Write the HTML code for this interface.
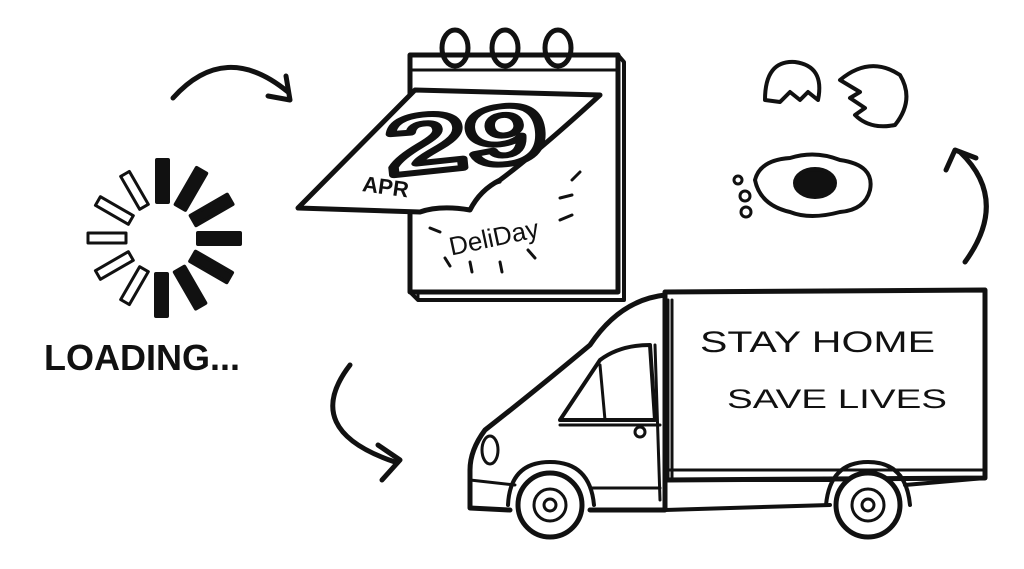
<!DOCTYPE html>
<html><head><meta charset="utf-8"><style>
html,body{margin:0;padding:0;background:#fff;}
svg{display:block}
text{font-family:"Liberation Sans",sans-serif;}
</style></head><body>
<svg width="1024" height="569" viewBox="0 0 1024 569" xmlns="http://www.w3.org/2000/svg" fill="none" stroke="#111" stroke-width="4" stroke-linecap="round" stroke-linejoin="round">
<!-- spinner -->
<g transform="translate(162,238)">
  <g fill="#111">
    <rect x="-5" y="-78" width="11" height="42" transform="rotate(0)"/>
    <rect x="-5" y="-78" width="11" height="42" transform="rotate(30)"/>
    <rect x="-5" y="-78" width="11" height="42" transform="rotate(60)"/>
    <rect x="-5" y="-78" width="11" height="42" transform="rotate(90)"/>
    <rect x="-5" y="-78" width="11" height="42" transform="rotate(120)"/>
    <rect x="-5" y="-78" width="11" height="42" transform="rotate(150)"/>
    <rect x="-5" y="-78" width="11" height="42" transform="rotate(180)"/>
  </g>
  <g fill="#fff" stroke-width="3">
    <rect x="-5" y="-74" width="10" height="38" transform="rotate(210)"/>
    <rect x="-5" y="-74" width="10" height="38" transform="rotate(240)"/>
    <rect x="-5" y="-74" width="10" height="38" transform="rotate(270)"/>
    <rect x="-5" y="-74" width="10" height="38" transform="rotate(300)"/>
    <rect x="-5" y="-74" width="10" height="38" transform="rotate(330)"/>
  </g>
</g>
<text x="44" y="370" font-size="36" font-weight="bold" fill="#111" stroke="none" textLength="196" lengthAdjust="spacingAndGlyphs">LOADING...</text>
<!-- arrows -->
<path d="M173 98 Q225 40 288 92" stroke-width="5"/>
<path d="M268 96 L290 100 L286 76" stroke-width="5"/>
<path d="M350 365 Q300 430 395 462" stroke-width="5"/>
<path d="M378 445 L400 460 L382 480" stroke-width="5"/>
<path d="M965 262 Q1010 200 960 152" stroke-width="5"/>
<path d="M946 170 L955 150 L976 158" stroke-width="5"/>
<!-- calendar -->
<path d="M410 55 L618 55 L618 292 L410 292 Z" fill="#fff" stroke-width="5"/>
<path d="M618 55 L624 62 L624 300 L418 300 L410 292" stroke-width="4"/>
<path d="M418 300 L418 292 M410 70 L618 70" stroke-width="3"/>
<g stroke-width="5">
<ellipse cx="455" cy="48" rx="13" ry="18"/><ellipse cx="505" cy="48" rx="13" ry="18"/><ellipse cx="558" cy="48" rx="13" ry="18"/>
</g>
<path d="M298 208 L415 90 L600 95 Q540 150 500 180 Q480 190 470 210 Q440 205 420 212 Z" fill="#fff" stroke-width="5"/>
<path d="M470 210 Q485 185 500 182" stroke-width="3"/>
<text x="385" y="168" font-size="82" font-weight="bold" fill="#fff" stroke="#111" stroke-width="6" textLength="160" lengthAdjust="spacingAndGlyphs" transform="rotate(-6 460 130)">29</text>
<text x="362" y="195" font-size="22" font-weight="bold" fill="#111" stroke="none" transform="rotate(8 390 190)">APR</text>
<text x="448" y="245" font-size="26" fill="#111" stroke="none" transform="rotate(-12 500 235)">DeliDay</text>
<g stroke-width="3"><path d="M430 228 L440 232 M445 258 L450 266 M470 262 L472 272 M500 262 L502 272 M528 250 L535 258 M560 220 L572 215 M572 180 L580 172 M560 198 L572 195"/></g>
<!-- eggs -->
<path d="M765 100 Q765 60 795 62 Q825 66 818 100 L808 92 L800 100 L790 92 L780 102 Z" stroke-width="4"/>
<path d="M840 80 Q870 55 900 75 Q915 100 895 125 Q870 130 855 115 L865 108 L850 98 L860 92 Z" stroke-width="4"/>
<path d="M755 180 Q760 160 790 158 Q815 150 840 160 Q875 165 870 190 Q865 210 840 212 Q810 220 790 212 Q760 205 755 180 Z" stroke-width="4"/>
<ellipse cx="815" cy="183" rx="20" ry="14" fill="#111"/>
<circle cx="738" cy="180" r="4" stroke-width="3"/><circle cx="745" cy="196" r="5" stroke-width="3"/><circle cx="746" cy="212" r="5" stroke-width="3"/>
<!-- van -->
<path d="M665 292 L985 290 L985 478 L665 480 Z" fill="#fff" stroke-width="5"/>
<path d="M665 470 L985 470 M668 300 L668 480 M672 300 L672 480" stroke-width="3"/>
<path d="M665 295 Q620 300 590 345 Q530 395 485 430 Q470 450 470 470 L470 508 L510 510 M590 510 L665 510 L665 480" stroke-width="5"/>
<path d="M665 480 L830 480 M905 485 L985 478" stroke-width="4"/>
<path d="M665 510 L830 505" stroke-width="4"/>
<path d="M560 420 L600 360 Q620 345 650 345 L655 420 Z" stroke-width="4"/>
<path d="M600 365 L605 420 M655 345 L660 500 M560 425 L660 425" stroke-width="3"/>
<path d="M470 480 L515 485 M590 488 L660 488" stroke-width="3"/>
<circle cx="640" cy="432" r="5" stroke-width="3"/>
<ellipse cx="490" cy="450" rx="8" ry="14" stroke-width="3"/>
<circle cx="550" cy="505" r="32" fill="#fff" stroke-width="5"/><circle cx="550" cy="505" r="16" stroke-width="3"/><circle cx="550" cy="505" r="6" stroke-width="3"/>
<circle cx="868" cy="505" r="32" fill="#fff" stroke-width="5"/><circle cx="868" cy="505" r="16" stroke-width="3"/><circle cx="868" cy="505" r="6" stroke-width="3"/>
<path d="M508 505 Q510 462 550 462 Q590 462 594 505 M826 505 Q830 462 868 462 Q906 462 910 505" stroke-width="4"/>
<text x="700" y="352" font-size="30" fill="#111" stroke="none" textLength="235" lengthAdjust="spacingAndGlyphs">STAY HOME</text>
<text x="727" y="408" font-size="27" fill="#111" stroke="none" textLength="220" lengthAdjust="spacingAndGlyphs">SAVE LIVES</text>
</svg>
</body></html>
